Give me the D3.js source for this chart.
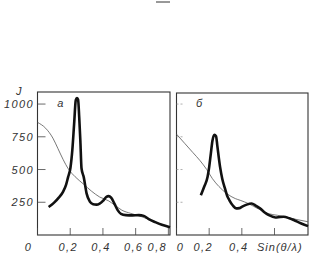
<!DOCTYPE html>
<html><head>
<meta charset="UTF-8">
<script src="https://cdn.jsdelivr.net/npm/d3@7"></script>
<style>
body{margin:0;background:#fff}
text{font-family:"Liberation Sans",sans-serif;font-style:italic;fill:#333;font-size:11px;letter-spacing:1.4px}
</style>
</head><body>
<svg id="chart" width="319" height="257"></svg>
<script>
// panel a
var aThickX = [0.068,0.10,0.13,0.156,0.175,0.187,0.201,0.213,0.224,0.234,0.241,0.248,0.255,0.262,0.269,0.283,0.30,0.32,0.34,0.36,0.38,0.40,0.42,0.435,0.45,0.47,0.49,0.51,0.54,0.58,0.62,0.65,0.68,0.72,0.76,0.81];
var aThickY = [214,245,285,330,385,442,510,650,850,1030,1045,1035,900,720,510,440,318,255,235,232,240,260,290,297,285,240,190,162,152,150,152,146,122,98,78,60];
var aThinX = [0,0.05,0.094,0.125,0.156,0.19,0.23,0.28,0.33,0.38,0.433,0.47,0.515,0.57,0.638,0.70,0.76,0.81];
var aThinY = [860,815,740,660,578,502,445,390,335,290,262,230,190,165,139,110,80,55];
// panel б
var bThickX = [0.149,0.17,0.19,0.20,0.21,0.22,0.232,0.242,0.25,0.258,0.267,0.28,0.297,0.31,0.324,0.345,0.365,0.385,0.40,0.43,0.46,0.485,0.513,0.54,0.565,0.605,0.635,0.656,0.69,0.718,0.76,0.805];
var bThickY = [303,370,442,518,620,720,765,755,680,600,518,430,354,300,265,225,203,205,215,232,240,225,202,172,152,134,138,139,128,114,90,68];
var bThinX = [0,0.05,0.10,0.144,0.185,0.22,0.26,0.308,0.36,0.39,0.44,0.50,0.56,0.62,0.666,0.73,0.805];
var bThinY = [770,700,630,568,500,430,370,316,278,265,240,200,164,150,139,120,101];

var yTicks = [250,500,750,1000];
var aXTicks = [0,0.2,0.4,0.6,0.8];
var bXTicks = [0,0.2,0.4,0.6];
var aXLabels = ["0","0,2","0,4","0,6","0,8"];
var bXLabels = ["0","0,2","0,4",""];
var xTitle = "Sin(θ/λ)";
var yTitle = "J";

var svg = d3.select("#chart");
var y = d3.scaleLinear().domain([0,1092]).range([235,92]);

function panel(x0, x1, xmax, top, thickX, thickY, thinX, thinY, xt, name, dashedTicks){
  var x = d3.scaleLinear().domain([0,xmax]).range([x0,x1]);
  var g = svg.append("g");
  g.append("rect").attr("x",x0).attr("y",top).attr("width",x1-x0).attr("height",235-top)
    .attr("fill","none").attr("stroke","#333").attr("stroke-width",1.1);
  // y ticks inside
  g.selectAll(".yt").data(yTicks).enter().append("line")
    .attr("x1",x0).attr("x2",x0+8).attr("y1",function(d){return y(d);}).attr("y2",function(d){return y(d);})
    .attr("stroke",dashedTicks?"#999":"#444").attr("stroke-width",0.8)
    .attr("stroke-dasharray",dashedTicks?"2,2":null);
  // x ticks inside
  g.selectAll(".xt").data(xt).enter().append("line")
    .attr("x1",function(d){return x(d);}).attr("x2",function(d){return x(d);})
    .attr("y1",235).attr("y2",228).attr("stroke","#444").attr("stroke-width",0.8);
  var line = d3.line().x(function(d){return x(d[0]);}).y(function(d){return y(d[1]);}).curve(d3.curveMonotoneX);
  g.append("path").attr("d",line(d3.zip(thinX,thinY))).attr("fill","none").attr("stroke","#555").attr("stroke-width",0.8);
  g.append("path").attr("d",line(d3.zip(thickX,thickY))).attr("fill","none").attr("stroke","#111").attr("stroke-width",2.6).attr("stroke-linejoin","round");
  g.append("text").attr("x",x(0.12)).attr("y",y(1000)+3).attr("font-size",12).text(name);
  return x;
}

var xa = panel(37.5, 170, 0.81, 92, aThickX, aThickY, aThinX, aThinY, aXTicks, "а", false);
var xb = panel(176.5, 308, 0.805, 93, bThickX, bThickY, bThinX, bThinY, bXTicks, "б", true);

// x labels
var aShift = [-9,-2,-2,-2,-11];
svg.selectAll(".xla").data(aXTicks).enter().append("text")
  .attr("x",function(d,i){return xa(d)+aShift[i];}).attr("y",251).attr("text-anchor","middle")
  .text(function(d,i){return aXLabels[i];});
var bShift = [4,-6,-3,0];
svg.selectAll(".xlb").data(bXTicks).enter().append("text")
  .attr("x",function(d,i){return xb(d)+bShift[i];}).attr("y",251).attr("text-anchor","middle")
  .text(function(d,i){return bXLabels[i];});
svg.append("text").attr("x",257).attr("y",251).style("letter-spacing","1px").text(xTitle);

// y labels
svg.selectAll(".yl").data(yTicks).enter().append("text")
  .attr("x",34).attr("y",function(d){return y(d)+4;}).attr("text-anchor","end").text(function(d){return d;});
svg.append("text").attr("x",16).attr("y",95).text(yTitle);

// small mark at top
svg.append("line").attr("x1",156).attr("x2",170).attr("y1",2).attr("y2",2).attr("stroke","#333").attr("stroke-width",1);
</script>
</body></html>
